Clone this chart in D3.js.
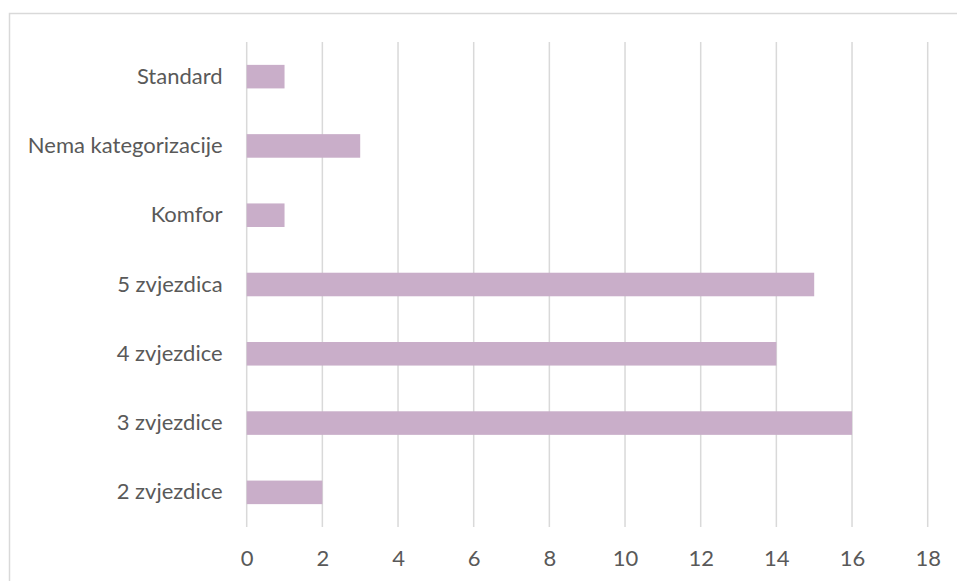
<!DOCTYPE html>
<html><head><meta charset="utf-8">
<script src="https://cdn.jsdelivr.net/npm/d3@7"></script>
<style>body{margin:0;background:#fff;} svg{display:block;}</style>
</head><body>
<svg id="c" width="957" height="581"></svg>
<script>
const categories = ["Standard","Nema kategorizacije","Komfor","5 zvjezdica","4 zvjezdice","3 zvjezdice","2 zvjezdice"];
const values = [1,3,1,15,14,16,2];
const xTicks = [0,2,4,6,8,10,12,14,16,18];

const svg = d3.select("#c");
const font = "Lato, 'Open Sans', sans-serif";
svg.append("rect").attr("x",9.5).attr("y",13.5).attr("width",960).attr("height",600)
  .attr("fill","#fff").attr("stroke","#d9d9d9").attr("stroke-width",1.5);

const x = d3.scaleLinear().domain([0,18]).range([246.7,927.7]);
const y = d3.scaleBand().domain(categories).range([42,527]).paddingInner(0.66).paddingOuter(0.33);

svg.append("g").selectAll("line").data(xTicks).join("line")
  .attr("x1",d=>x(d)).attr("x2",d=>x(d)).attr("y1",42).attr("y2",527)
  .attr("stroke","#d9d9d9").attr("stroke-width",1.5);

svg.append("g").selectAll("rect").data(values).join("rect")
  .attr("x",x(0)).attr("y",(d,i)=>y(categories[i]))
  .attr("width",d=>x(d)-x(0)).attr("height",y.bandwidth())
  .attr("fill","#c9aec9");

const xa = svg.append("g").attr("transform","translate(0,527)")
  .call(d3.axisBottom(x).tickValues(xTicks).tickSize(0).tickPadding(23.5).tickFormat(d3.format("d")));
xa.select(".domain").remove();
xa.selectAll("text").attr("font-family",font).attr("font-size",22).attr("fill","#595959");

const ya = svg.append("g").attr("transform","translate(222.6,0)")
  .call(d3.axisLeft(y).tickSize(0).tickPadding(0));
ya.select(".domain").remove();
ya.selectAll("text").attr("font-family",font).attr("font-size",22).attr("fill","#595959");
</script>
</body></html>
